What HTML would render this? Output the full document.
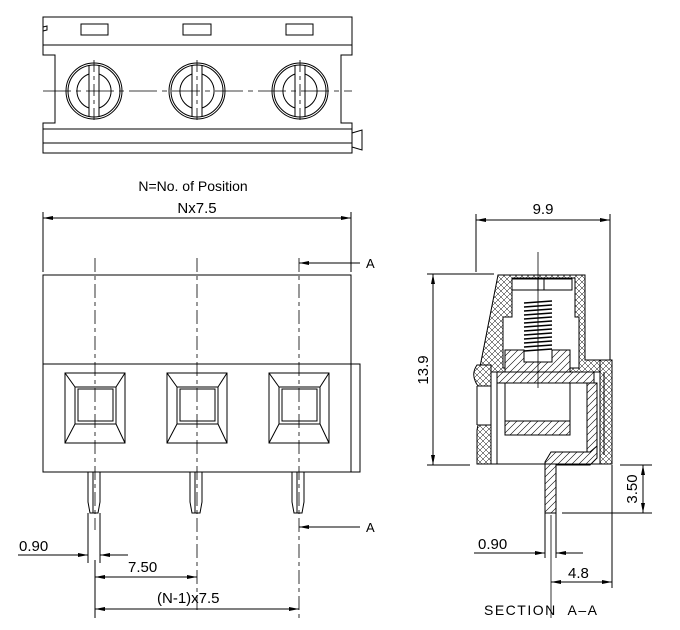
<!DOCTYPE html>
<html><head><meta charset="utf-8"><style>
html,body{margin:0;padding:0;background:#fff}
svg{display:block}
text{font-family:"Liberation Sans",sans-serif;fill:#000}
</style></head><body>
<svg width="680" height="630" viewBox="0 0 680 630" xmlns="http://www.w3.org/2000/svg">
<defs>
<pattern id="xh" width="6" height="6" patternUnits="userSpaceOnUse">
<rect width="6" height="6" fill="#fff"/><path d="M0 0L6 6M6 0L0 6" stroke="#000" stroke-width="0.5"/></pattern>
<pattern id="hh" width="7" height="7" patternUnits="userSpaceOnUse">
<rect width="7" height="7" fill="#fff"/><path d="M0 7L7 0M-1 1L1 -1M6 8L8 6" stroke="#000" stroke-width="0.6"/></pattern>
<marker id="ar" viewBox="0 0 10 6" refX="10" refY="3" markerWidth="10" markerHeight="6" markerUnits="userSpaceOnUse" orient="auto-start-reverse"><path d="M0 1L10 3L0 5Z" fill="#000"/></marker>
</defs>
<g fill="none" stroke="#000" stroke-width="1">
<!-- TOP VIEW -->
<path d="M43 17H352V45H43Z"/>
<path d="M43 45V55H55V123H43V153H352V123H341V55H352V45"/>
<path d="M43 129H352M43 143H352"/>
<path d="M352 133L362 130V150L352 147"/>
<path d="M43 27L47 26V30L43 31"/>
<rect x="81" y="24" width="27" height="11"/>
<rect x="183" y="24" width="28" height="11"/>
<rect x="286" y="24" width="27" height="11"/>
<g id="c1">
<circle cx="94" cy="91" r="28"/><circle cx="94" cy="91" r="26"/>
<path d="M89 74A18 18 0 0 0 89 108M99 74A18 18 0 0 1 99 108"/>
<path d="M89 65V117M99 65V117"/>
</g>
<use href="#c1" x="103"/><use href="#c1" x="206"/>
<path d="M43 91H352" stroke-dasharray="28 5 5 5" stroke-width="0.8"/>
<path d="M94 60V122M197 60V122M300 60V122" stroke-dasharray="12 4 4 4" stroke-width="0.8"/>

<!-- FRONT VIEW -->
<path d="M43 275H351V472H43Z"/>
<path d="M43 364H360V472H351"/>
<g id="sq">
<rect x="65" y="373" width="60" height="70"/>
<rect x="75" y="387" width="41" height="37"/>
<rect x="78" y="389" width="35" height="32"/>
<path d="M65 373L75 387M125 373L116 387M65 443L75 424M125 443L116 424"/>
<path d="M88 472V502L90 513H98L100 502V472M93 472V513"/>
</g>
<use href="#sq" x="102"/><use href="#sq" x="204"/>
<path d="M95 258V530M197 258V610M299 258V620" stroke-dasharray="14 4 4 4" stroke-width="0.8"/>
<!-- dims -->
<path d="M43 212V272M351 212V272"/>
<path d="M43 218H351" marker-start="url(#ar)" marker-end="url(#ar)"/>
<path d="M299 263H360" marker-start="url(#ar)"/>
<path d="M299 527H360" marker-start="url(#ar)"/>
<path d="M88 513V563M100 513V563M95 560V618"/>
<path d="M18 555H88" marker-end="url(#ar)"/><path d="M100 555H128" marker-start="url(#ar)"/>
<path d="M95 577H197" marker-start="url(#ar)" marker-end="url(#ar)"/>
<path d="M95 609H299" marker-start="url(#ar)" marker-end="url(#ar)"/>

<!-- SECTION -->
<path d="M476 214V272M610 214V360"/>
<path d="M476 220H610" marker-start="url(#ar)" marker-end="url(#ar)"/>
<path d="M427 274H494M427 465H470"/>
<path d="M433 274V465" marker-start="url(#ar)" marker-end="url(#ar)"/>
<!-- cap -->
<path d="M498 275H585V360H612V372H479Z" fill="url(#xh)"/>
<path d="M512 278H575V317H579V368H503V317H512Z" fill="#fff"/>
<!-- screw head -->
<path d="M512 279H572V290H512Z"/>
<path d="M538 279V290M544 279V290"/>
<path d="M524 303L552 301M524 307L552 305M524 311L552 309M524 315L552 313M524 319L552 317M524 323L552 321M524 327L552 325M524 331L552 329M524 335L552 333M524 339L552 337M524 343L552 341M524 347L552 345M524 351L552 349" stroke-width="1.5"/>
<!-- clamp block -->
<path d="M505 350H524V362H552V350H570V372H505Z" fill="url(#hh)"/>
<!-- left wall -->
<path d="M477 365Q470 375 478 386H491V365Z" fill="url(#xh)"/>
<path d="M478 425H491V464H477V430Z" fill="url(#xh)"/>
<path d="M477 386V425M491 386V425M497 383V464"/>
<!-- right wall -->
<path d="M600 360H612V464H600Z" fill="url(#xh)"/>
<path d="M604 372V455"/>
<!-- bars -->
<rect x="497" y="372" width="97" height="11" fill="url(#hh)"/>
<rect x="505" y="421" width="65" height="14" fill="url(#hh)"/>
<path d="M505 383V421M570 383V421"/>
<path d="M587 383H597V455L590 462H587Z" fill="url(#hh)"/>
<path d="M545 513V462L551 452H590L597 446V458L590 465H556V513Z" fill="url(#hh)"/>
<path d="M477 464H612"/>
<path d="M538 252V388" stroke-width="0.8"/>
<path d="M551 515V618" stroke-width="0.8"/>
<!-- bottom dims -->
<path d="M545 513V558M556 513V558"/>
<path d="M474 553H545" marker-end="url(#ar)"/><path d="M556 553H583" marker-start="url(#ar)"/>
<path d="M612 465V588"/>
<path d="M551 582H612" marker-start="url(#ar)" marker-end="url(#ar)"/>
<path d="M620 465H652M562 513H652"/>
<path d="M643 465V513" marker-start="url(#ar)" marker-end="url(#ar)"/>
</g>
<g font-size="15">
<text x="193" y="191" text-anchor="middle" font-size="14">N=No. of Position</text>
<text x="197" y="213" text-anchor="middle">Nx7.5</text>
<text x="366" y="268" font-size="13">A</text>
<text x="366" y="532" font-size="13">A</text>
<text x="19" y="551">0.90</text>
<text x="128" y="572">7.50</text>
<text x="157" y="603">(N-1)x7.5</text>
<text x="543" y="214" text-anchor="middle">9.9</text>
<text transform="translate(428,370) rotate(-90)" text-anchor="middle">13.9</text>
<text transform="translate(637,489) rotate(-90)" text-anchor="middle">3.50</text>
<text x="478" y="549">0.90</text>
<text x="568" y="578">4.8</text>
<text x="484" y="615" font-size="14" letter-spacing="1.5">SECTION&#160;&#160;A–A</text>
</g>
</svg>
</body></html>
